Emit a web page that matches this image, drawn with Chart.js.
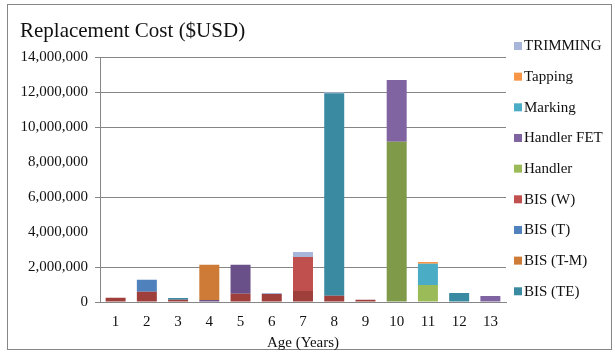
<!DOCTYPE html>
<html>
<head>
<meta charset="utf-8">
<script src="https://cdn.jsdelivr.net/npm/chart.js@4/dist/chart.umd.min.js"></script>
<style>
html,body{margin:0;padding:0;background:#fff}
#wrap{width:615px;height:356px;position:relative}
</style>
</head>
<body>
<div id="wrap"><canvas id="c"></canvas></div>
<script>
// ---- data ----
const categories = ['1','2','3','4','5','6','7','8','9','10','11','12','13'];
const titleText = 'Replacement Cost ($USD)';
const xTitle = 'Age (Years)';
const yMax = 14000000;
const yStep = 2000000;

// series stacked below the visible legend entries (their legend rows are cut off in the reference)
const series8  = [250000, 580000, 130000, 0, 475000, 460000, 630000, 360000, 130000, 0, 0, 0, 0];
const series9  = [0, 0, 0, 0, 0, 0, 0, 0, 0, 9160000, 0, 0, 0];
const series10 = [0, 0, 0, 115000, 1650000, 0, 0, 0, 0, 0, 0, 0, 0];
// legend series (bottom of stack first)
const bisTE      = [0, 0, 100000, 0, 0, 0, 0, 11580000, 0, 0, 0, 520000, 0];
const bisTM      = [0, 0, 0, 2020000, 0, 0, 0, 0, 0, 0, 0, 0, 0];
const bisT       = [0, 690000, 0, 0, 0, 0, 0, 0, 0, 0, 0, 0, 0];
const bisW       = [0, 0, 0, 0, 0, 0, 1940000, 0, 0, 0, 0, 0, 0];
const handler    = [0, 0, 0, 0, 0, 0, 0, 0, 0, 0, 975000, 0, 0];
const handlerFET = [0, 0, 0, 0, 0, 0, 0, 0, 0, 3540000, 0, 0, 350000];
const marking    = [0, 0, 0, 0, 0, 0, 0, 0, 0, 0, 1210000, 0, 0];
const tapping    = [0, 0, 0, 0, 0, 0, 0, 0, 0, 0, 100000, 0, 0];
const trimming   = [0, 0, 0, 0, 0, 50000, 290000, 60000, 0, 0, 0, 0, 0];

const FONT = '"Liberation Serif", "Times New Roman", serif';
const TEXT = '#111111';
const GRID = '#868686';

function ds(label, data, color, inLegend) {
  return { label, data, backgroundColor: color, borderWidth: 0, inLegend,
           categoryPercentage: 0.8, barPercentage: 0.8 };
}

const datasets = [
  ds('Series 8', series8, '#9E3F3C', false),
  ds('Series 9', series9, '#7F9A48', false),
  ds('Series 10', series10, '#6A5089', false),
  ds('BIS (TE)', bisTE, '#3A8AA2', true),
  ds('BIS (T-M)', bisTM, '#CD7B37', true),
  ds('BIS (T)', bisT, '#4F81BD', true),
  ds('BIS (W)', bisW, '#C0504D', true),
  ds('Handler', handler, '#9BBB59', true),
  ds('Handler FET', handlerFET, '#8064A2', true),
  ds('Marking', marking, '#4BACC6', true),
  ds('Tapping', tapping, '#F79646', true),
  ds('TRIMMING', trimming, '#A7B6D9', true)
];

const framePlugin = {
  id: 'frame',
  beforeDraw(chart) {
    const ctx = chart.ctx;
    ctx.save();
    ctx.fillStyle = '#ffffff';
    ctx.fillRect(0, 0, chart.width, chart.height);
    ctx.strokeStyle = GRID;
    ctx.lineWidth = 1;
    ctx.strokeRect(7.5, 4.5, 604, 345);
    ctx.restore();
  }
};

const sideLegend = {
  id: 'sideLegend',
  afterDraw(chart) {
    const ctx = chart.ctx;
    const items = chart.data.datasets.filter(d => d.inLegend).slice().reverse();
    const left = chart.chartArea.right + 8;
    ctx.save();
    ctx.font = '15px ' + FONT;
    ctx.textBaseline = 'middle';
    ctx.textAlign = 'left';
    items.forEach((d, i) => {
      const y = 46 + i * 30.66;
      ctx.fillStyle = d.backgroundColor;
      ctx.fillRect(left, y - 4, 8, 8);
      ctx.fillStyle = TEXT;
      ctx.fillText(d.label, left + 10, y + 0.5);
    });
    ctx.restore();
  }
};

new Chart(document.getElementById('c'), {
  type: 'bar',
  data: { labels: categories, datasets },
  plugins: [framePlugin, sideLegend],
  options: {
    responsive: true,
    maintainAspectRatio: false,
    animation: false,
    devicePixelRatio: 1,
    layout: { padding: { left: 20, right: 109, top: 0, bottom: 0 } },
    plugins: {
      legend: { display: false },
      tooltip: { enabled: false },
      title: {
        display: true, text: titleText, align: 'start', color: TEXT,
        font: { family: FONT, size: 21, weight: 'normal' },
        padding: { top: 19, bottom: 13 }
      }
    },
    scales: {
      x: {
        stacked: true,
        grid: { display: false, drawTicks: false },
        border: { display: true, color: GRID, width: 1 },
        ticks: { color: TEXT, font: { family: FONT, size: 15 }, padding: 11, maxRotation: 0 },
        title: { display: true, text: xTitle, color: TEXT,
                 font: { family: FONT, size: 15 }, padding: { top: 0, bottom: 4 } },
        afterFit(scale) { scale.height = 54; }
      },
      y: {
        stacked: true,
        min: 0, max: yMax,
        grid: {
          color: c => (c.tick && (c.tick.value === 8000000 || c.tick.value === 4000000)) ? 'rgba(0,0,0,0)' : GRID,
          tickLength: 5, drawTicks: true, lineWidth: 1
        },
        border: { display: true, color: GRID, width: 1 },
        ticks: {
          stepSize: yStep, color: TEXT, padding: 7,
          font: { family: FONT, size: 15 },
          callback: v => Number(v).toLocaleString('en-US')
        },
        afterFit(scale) { scale.width = 80; }
      }
    }
  }
});
</script>
</body>
</html>
